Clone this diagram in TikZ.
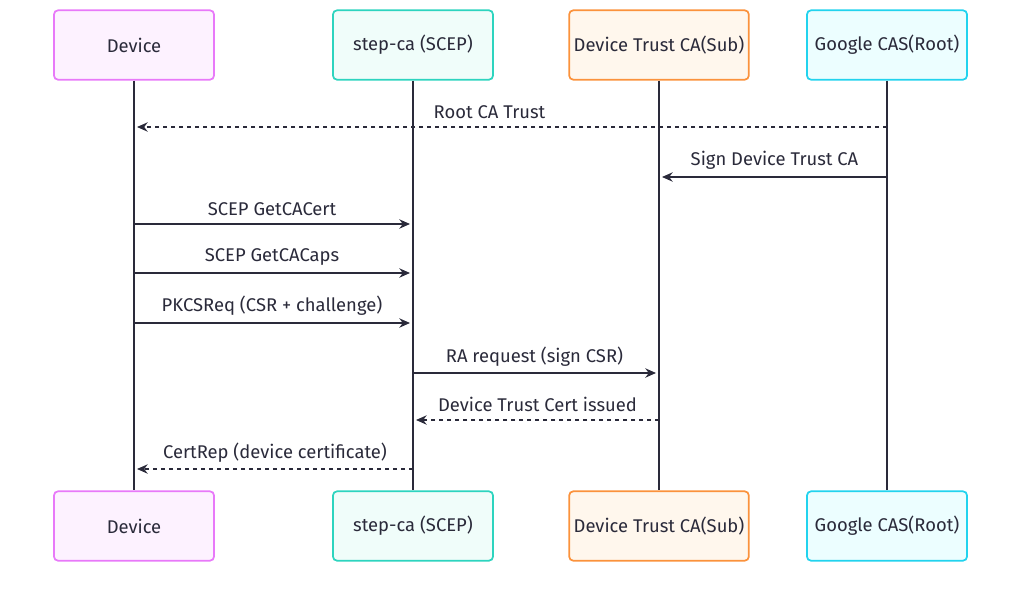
\documentclass[tikz,border=0pt]{standalone}
\usepackage{fontspec}
\setmainfont{Fira Sans}
\usetikzlibrary{arrows.meta}
\definecolor{devFill}{HTML}{FDF2FF}
\definecolor{devLine}{HTML}{E879F9}
\definecolor{stepFill}{HTML}{F0FDFA}
\definecolor{stepLine}{HTML}{2DD4BF}
\definecolor{subFill}{HTML}{FFF7ED}
\definecolor{subLine}{HTML}{FB923C}
\definecolor{rootFill}{HTML}{ECFEFF}
\definecolor{rootLine}{HTML}{22D3EE}
\definecolor{ink}{HTML}{2A2A3A}
\begin{document}
\begin{tikzpicture}[x=0.75pt,y=-0.75pt,font=\fontsize{13.8}{15}\selectfont,
  actor/.style={draw=#1Line,fill=#1Fill,line width=1.3pt,rounded corners=3pt,
    minimum height=52pt,text=ink},
  life/.style={draw=ink,line width=1.2pt},
  msg/.style={draw=ink,line width=1.1pt,-{Stealth[length=8pt,width=7pt]}},
  reply/.style={msg,dash pattern=on 3pt off 3pt},
  lbl/.style={text=ink,inner sep=0pt}]
\useasboundingbox (0,0) rectangle (1024,607);
% actors
\node[actor=dev,minimum width=120pt] (dev) at (134,45) {Device};
\node[actor=step,minimum width=120pt] (step) at (413,45) {step-ca (SCEP)};
\node[actor=sub,minimum width=132pt] (sub) at (659,45) {Device Trust CA(Sub)};
\node[actor=root,minimum width=120pt] (root) at (887,45) {Google CAS(Root)};
\node[actor=dev,minimum width=120pt] (devB) at (134,526) {Device};
\node[actor=step,minimum width=120pt] (stepB) at (413,526) {step-ca (SCEP)};
\node[actor=sub,minimum width=132pt] (subB) at (659,526) {Device Trust CA(Sub)};
\node[actor=root,minimum width=120pt] (rootB) at (887,526) {Google CAS(Root)};
% lifelines
\draw[life] (dev) -- (devB);
\draw[life] (step) -- (stepB);
\draw[life] (sub) -- (subB);
\draw[life] (root) -- (rootB);
% message anchors
\coordinate (r1) at (887,127); \coordinate (d1) at (137,127);
\coordinate (r2) at (887,177); \coordinate (s2) at (662,177);
\coordinate (d3) at (134,224); \coordinate (t3) at (410,224);
\coordinate (d4) at (134,273); \coordinate (t4) at (410,273);
\coordinate (d5) at (134,323); \coordinate (t5) at (410,323);
\coordinate (t6) at (413,373); \coordinate (s6) at (656,373);
\coordinate (s7) at (659,420); \coordinate (t7) at (416,420);
\coordinate (t8) at (413,469); \coordinate (d8) at (137,469);
% messages
\draw[reply] (r1) -- (d1) node[lbl,pos=0.53,yshift=11.5pt] {Root CA Trust};
\draw[msg] (r2) -- (s2) node[lbl,midway,yshift=12.5pt] {Sign Device Trust CA};
\draw[msg] (d3) -- (t3) node[lbl,midway,yshift=11.5pt] {SCEP GetCACert};
\draw[msg] (d4) -- (t4) node[lbl,midway,yshift=12pt] {SCEP GetCACaps};
\draw[msg] (d5) -- (t5) node[lbl,midway,yshift=13pt] {PKCSReq (CSR + challenge)};
\draw[msg] (t6) -- (s6) node[lbl,midway,yshift=12.5pt] {RA request (sign CSR)};
\draw[reply] (s7) -- (t7) node[lbl,midway,yshift=11.5pt] {Device Trust Cert issued};
\draw[reply] (t8) -- (d8) node[lbl,midway,yshift=12.5pt] {CertRep (device certificate)};
\end{tikzpicture}
\end{document}
